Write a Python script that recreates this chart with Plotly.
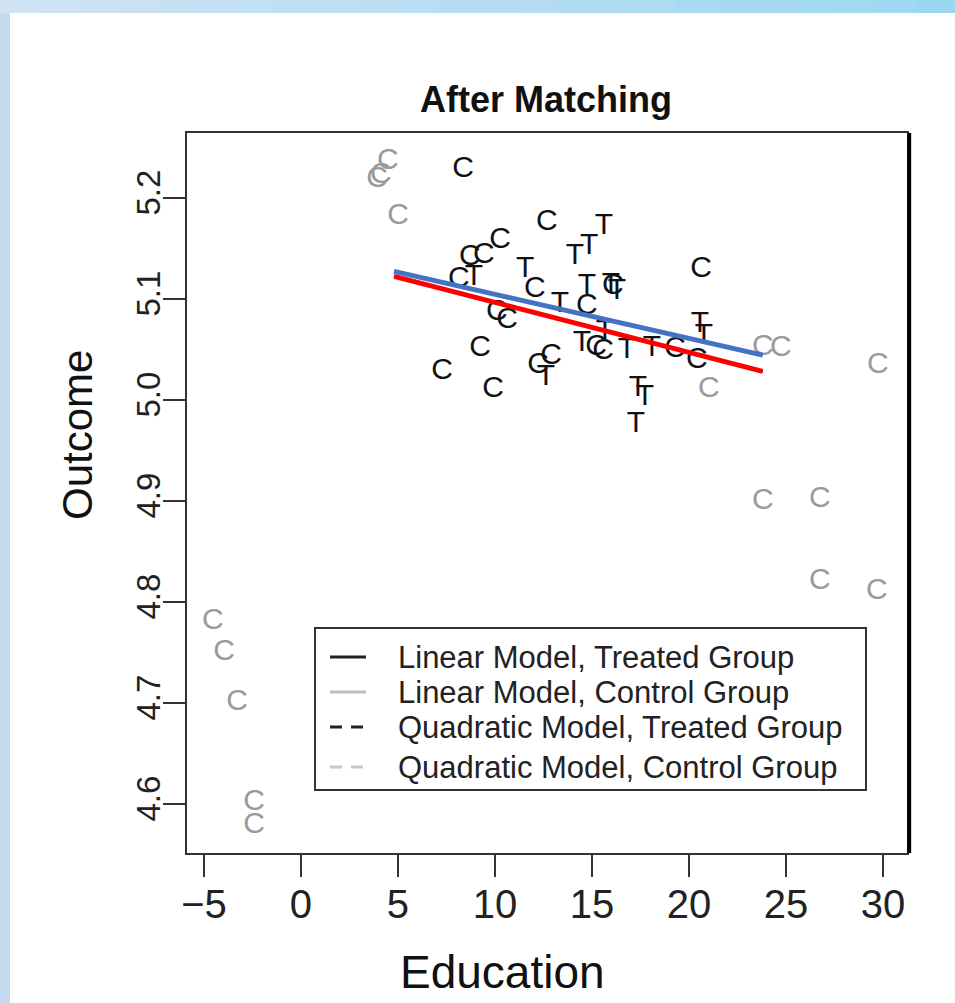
import plotly.graph_objects as go

# ---------------- data ----------------
treated_x = [15.62, 14.85, 14.12, 11.55, 8.92, 14.74, 15.98, 16.29, 13.35, 14.48,
             15.67, 16.80, 18.09, 20.57, 20.77, 12.63, 17.37, 17.73, 17.27]
treated_y = [5.171, 5.152, 5.142, 5.129, 5.121, 5.112, 5.113, 5.107, 5.094, 5.056,
             5.066, 5.049, 5.051, 5.074, 5.062, 5.022, 5.011, 5.002, 4.975]

matched_ctrl_x = [8.35, 12.68, 10.26, 8.71, 9.43, 8.14, 12.06, 14.74, 20.62, 10.10,
                  10.62, 15.21, 15.57, 19.28, 20.41, 9.23, 7.27, 9.90, 12.22, 12.89, 16.08]
matched_ctrl_y = [5.228, 5.175, 5.158, 5.141, 5.143, 5.119, 5.109, 5.092, 5.129, 5.086,
                  5.078, 5.052, 5.048, 5.050, 5.039, 5.051, 5.028, 5.010, 5.034, 5.043, 5.112]

unmatched_x = [4.48, 3.92, 4.12, 5.00, -4.54, -3.97, -3.30, -2.42, -2.42,
               23.81, 26.75, 26.75, 29.69, 23.81, 24.74, 29.74, 21.03]
unmatched_y = [5.236, 5.218, 5.222, 5.181, 4.780, 4.750, 4.700, 4.601, 4.578,
               4.899, 4.901, 4.820, 4.810, 5.052, 5.051, 5.034, 5.010]

fit_x = [4.8, 23.8]
fit_treated_y = [5.122, 5.028]   # red overlay
fit_control_y = [5.127, 5.044]   # blue overlay

x_ticks = [-5, 0, 5, 10, 15, 20, 25, 30]
y_ticks = [4.6, 4.7, 4.8, 4.9, 5.0, 5.1, 5.2]

legend_names = ["Linear Model, Treated Group", "Linear Model, Control Group",
                "Quadratic Model, Treated Group", "Quadratic Model, Control Group"]
legend_colors = ["#222222", "#bdbdbd", "#222222", "#c8c8c8"]
legend_dash = ["solid", "solid", "12px,9px", "12px,9px"]

# ---------------- figure ----------------
FONT = "Liberation Sans, Arial, Helvetica, sans-serif"
W, H = 955, 1003
L, R, T, B = 187, 48, 133, 150
PW, PH = W - L - R, H - T - B


def px2paper_x(px):
    return (px - L) / PW


def px2paper_y(py):
    return (H - B - py) / PH


fig = go.Figure()

# underlying model lines (black / gray), as in the original R plot
fig.add_trace(go.Scatter(x=fit_x, y=fit_treated_y, mode="lines",
                         line=dict(color="black", width=3),
                         name=legend_names[0], showlegend=False))
fig.add_trace(go.Scatter(x=fit_x, y=fit_control_y, mode="lines",
                         line=dict(color="#b4b4b4", width=3),
                         name=legend_names[1], showlegend=False))

# points as letters
fig.add_trace(go.Scatter(x=unmatched_x, y=unmatched_y, mode="text",
                         text=["C"] * len(unmatched_x),
                         textfont=dict(family=FONT, size=30, color="#9a9a9a"),
                         showlegend=False))
fig.add_trace(go.Scatter(x=matched_ctrl_x, y=matched_ctrl_y, mode="text",
                         text=["C"] * len(matched_ctrl_x),
                         textfont=dict(family=FONT, size=30, color="#111111"),
                         showlegend=False))
fig.add_trace(go.Scatter(x=treated_x, y=treated_y, mode="text",
                         text=["T"] * len(treated_x),
                         textfont=dict(family=FONT, size=30, color="#111111"),
                         showlegend=False))

# coloured overlay lines
fig.add_trace(go.Scatter(x=fit_x, y=fit_treated_y, mode="lines",
                         line=dict(color="#ff0000", width=5), showlegend=False))
fig.add_trace(go.Scatter(x=fit_x, y=fit_control_y, mode="lines",
                         line=dict(color="#4472c4", width=5), showlegend=False))

# ---------------- background frame ----------------
shapes = []
shapes.append(dict(type="rect", xref="paper", yref="paper", layer="below",
                   x0=px2paper_x(10), x1=px2paper_x(W + 5),
                   y0=px2paper_y(H + 5), y1=px2paper_y(13),
                   fillcolor="white", line=dict(width=0)))
c0 = (0xd0, 0xe3, 0xf3)
c1 = (0x9c, 0xd7, 0xf2)
n = 24
for i in range(n):
    t = i / (n - 1)
    col = "rgb(%d,%d,%d)" % tuple(round(a + (b - a) * t) for a, b in zip(c0, c1))
    shapes.append(dict(type="rect", xref="paper", yref="paper", layer="below",
                       x0=px2paper_x(W * i / n), x1=px2paper_x(W * (i + 1) / n + 1),
                       y0=px2paper_y(13), y1=px2paper_y(-2),
                       fillcolor=col, line=dict(width=0)))
shapes.append(dict(type="line", xref="paper", yref="paper",
                   x0=1.003, x1=1.003, y0=0, y1=1,
                   line=dict(color="black", width=4)))

# ---------------- legend box (drawn like R's legend()) ----------------
leg_left, leg_right, leg_top, leg_bottom = 315, 866, 628, 790
row_y = [657, 692, 727, 767]
shapes.append(dict(type="rect", xref="paper", yref="paper",
                   x0=px2paper_x(leg_left), x1=px2paper_x(leg_right),
                   y0=px2paper_y(leg_bottom), y1=px2paper_y(leg_top),
                   fillcolor="white", line=dict(color="#333333", width=2)))
annotations = []
for name, col, dash, ry in zip(legend_names, legend_colors, legend_dash, row_y):
    shapes.append(dict(type="line", xref="paper", yref="paper",
                       x0=px2paper_x(330), x1=px2paper_x(366),
                       y0=px2paper_y(ry), y1=px2paper_y(ry),
                       line=dict(color=col, width=3, dash=dash)))
    annotations.append(dict(text=name, x=px2paper_x(396), y=px2paper_y(ry),
                            xref="paper", yref="paper", showarrow=False,
                            xanchor="left", yanchor="middle",
                            font=dict(family=FONT, size=31, color="#222222")))

annotations += [
    dict(text="<b>After Matching</b>", x=px2paper_x(546), y=px2paper_y(100),
         xref="paper", yref="paper", showarrow=False,
         xanchor="center", yanchor="middle",
         font=dict(family=FONT, size=36, color="#111111")),
    dict(text="Education", x=px2paper_x(502), y=px2paper_y(972),
         xref="paper", yref="paper", showarrow=False,
         xanchor="center", yanchor="middle",
         font=dict(family=FONT, size=46, color="#111111")),
    dict(text="Outcome", x=px2paper_x(78), y=px2paper_y(435),
         xref="paper", yref="paper", showarrow=False, textangle=-90,
         xanchor="center", yanchor="middle",
         font=dict(family=FONT, size=42, color="#111111")),
]

fig.update_layout(
    width=W, height=H,
    margin=dict(l=L, r=R, t=T, b=B),
    paper_bgcolor="#c4dbef",
    plot_bgcolor="white",
    shapes=shapes,
    annotations=annotations,
    showlegend=False,
)

fig.update_xaxes(range=[-5.876, 31.24], tickvals=x_ticks,
                 ticktext=["\u22125" if v < 0 else str(v) for v in x_ticks],
                 ticks="outside", ticklen=22, tickwidth=2, tickcolor="#333333",
                 showline=True, linecolor="#333333", linewidth=2, mirror=True,
                 showgrid=False, zeroline=False,
                 tickfont=dict(family=FONT, size=40, color="#222222"),
                 ticklabelstandoff=-7)
fig.update_yaxes(range=[4.551, 5.264], tickvals=y_ticks,
                 ticktext=["%.1f" % v for v in y_ticks],
                 ticks="outside", ticklen=22, tickwidth=2, tickcolor="#333333",
                 showline=True, linecolor="#333333", linewidth=2, mirror=True,
                 showgrid=False, zeroline=False, tickangle=-90,
                 tickfont=dict(family=FONT, size=33, color="#222222"),
                 ticklabelstandoff=-10)

fig.write_html("out.html")
